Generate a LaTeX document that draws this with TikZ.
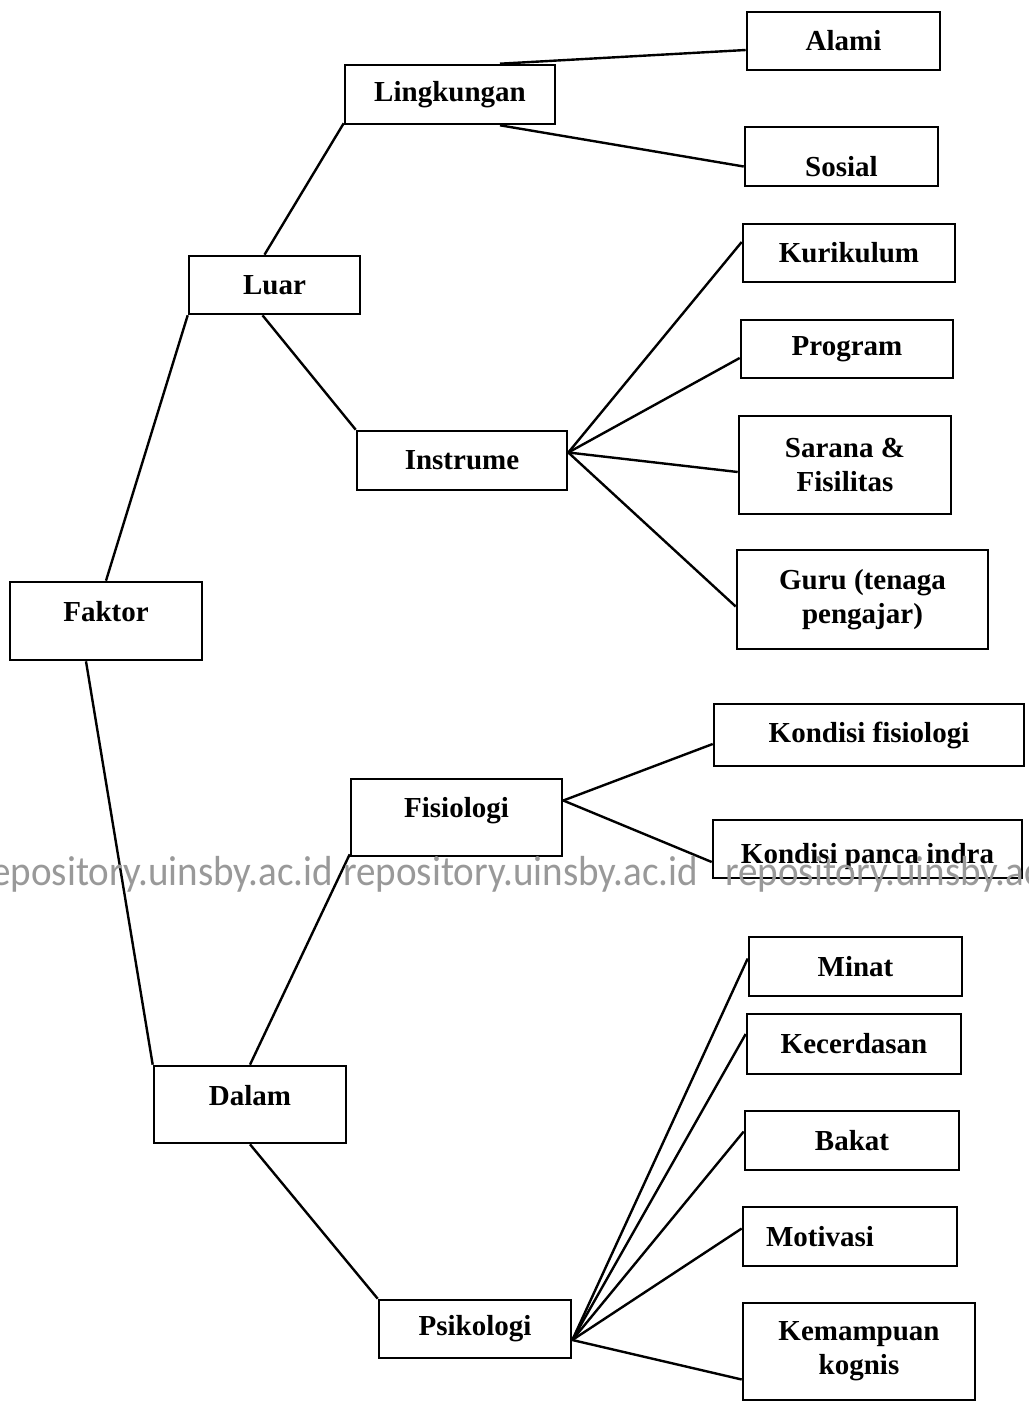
\documentclass[tikz,border=0pt]{standalone}
\usepackage{fontspec}
\setmainfont{Liberation Serif}
\newfontfamily\wmfont{Carlito}
\begin{document}
\begin{tikzpicture}[x=1pt,y=-1pt,
  box/.style={draw, line width=2.6pt, rectangle, inner sep=0pt, align=center,
    font=\fontsize{29}{34}\selectfont\bfseries},
  link/.style={line width=2.4pt},
  wm/.style={text=black!40, inner sep=0pt, anchor=base west, xscale=0.93,
    font=\wmfont\fontsize{42}{46}\selectfont}]
\useasboundingbox[fill=white] (0,0) rectangle (1028,1407);

\node[box, minimum width=192pt, minimum height=78pt, text height=20pt, text depth=20pt] (faktor) at (106,621) {Faktor};
\node[box, minimum width=171pt, minimum height=58pt] (luar) at (274.5,285) {Luar};
\node[box, minimum width=210pt, minimum height=59pt] (lingkungan) at (450,94.5) {Lingkungan};
\node[box, minimum width=193pt, minimum height=58pt] (alami) at (843.5,41) {Alami};
\node[box, minimum width=193pt, minimum height=59pt, text height=41pt, text depth=0pt] (sosial) at (841.5,156.5) {Sosial};
\node[box, minimum width=212pt, minimum height=58pt] (kurikulum) at (849,253) {Kurikulum};
\node[box, minimum width=212pt, minimum height=58pt] (program) at (847,349) {Program};
\node[box, minimum width=212pt, minimum height=98pt] (sarana) at (845,465) {Sarana \&\\Fisilitas};
\node[box, minimum width=251pt, minimum height=99pt] (guru) at (862.5,599.5) {Guru (tenaga\\pengajar)};
\node[box, minimum width=210pt, minimum height=59pt] (instrume) at (462,460.5) {Instrume};
\node[box, minimum width=310pt, minimum height=62pt] (kfis) at (869,735) {Kondisi fisiologi};
\node[box, minimum width=309pt, minimum height=58pt, text height=34pt, text depth=6pt] (kpi) at (867.5,849) {Kondisi panca indra};
\node[box, minimum width=211pt, minimum height=77pt, text height=20pt, text depth=20pt] (fisiologi) at (456.5,817.5) {Fisiologi};
\node[box, minimum width=192pt, minimum height=77pt, text height=20pt, text depth=18pt] (dalam) at (250,1104.5) {Dalam};
\node[box, minimum width=213pt, minimum height=59pt] (minat) at (855.5,966.5) {Minat};
\node[box, minimum width=214pt, minimum height=60pt] (kecerdasan) at (854,1044) {Kecerdasan};
\node[box, minimum width=214pt, minimum height=59pt] (bakat) at (852,1140.5) {Bakat};
\node[box, minimum width=214pt, minimum height=59pt] (motivasi) at (850,1236.5) {Motivasi\hspace*{60pt}};
\node[box, minimum width=232pt, minimum height=97pt] (kemampuan) at (859,1351.5) {Kemampuan\\kognis};
\node[box, minimum width=192pt, minimum height=58pt] (psikologi) at (475,1329) {Psikologi};

\draw[link] (faktor.north) -- (luar.south west);
\draw[link] ([xshift=-20pt]faktor.south) -- (dalam.north west);
\draw[link] ([xshift=-10pt]luar.north) -- ([yshift=2pt]lingkungan.south west);
\draw[link] ([xshift=-12pt]luar.south) -- (instrume.north west);
\draw[link] ([xshift=50pt]lingkungan.north) -- ([yshift=-9pt]alami.west);
\draw[link] ([xshift=50pt]lingkungan.south) -- ([yshift=-10pt]sosial.west);
\draw[link] ([yshift=8pt]instrume.east) -- ([yshift=11pt]kurikulum.west);
\draw[link] ([yshift=8pt]instrume.east) -- ([yshift=-9pt]program.west);
\draw[link] ([yshift=8pt]instrume.east) -- ([yshift=-7pt]sarana.west);
\draw[link] ([yshift=8pt]instrume.east) -- ([yshift=-7pt]guru.west);
\draw[link] ([yshift=17pt]fisiologi.east) -- ([yshift=-9pt]kfis.west);
\draw[link] ([yshift=17pt]fisiologi.east) -- ([yshift=-13pt]kpi.west);
\draw[link] (dalam.north) -- ([yshift=3pt]fisiologi.south west);
\draw[link] (dalam.south) -- (psikologi.north west);
\draw[link] ([yshift=-11pt]psikologi.east) -- ([yshift=8pt]minat.west);
\draw[link] ([yshift=-11pt]psikologi.east) -- ([yshift=10pt]kecerdasan.west);
\draw[link] ([yshift=-11pt]psikologi.east) -- ([yshift=9pt]bakat.west);
\draw[link] ([yshift=-11pt]psikologi.east) -- ([yshift=8pt]motivasi.west);
\draw[link] ([yshift=-11pt]psikologi.east) -- ([yshift=-28pt]kemampuan.west);

\node[wm] (wm1) at (-22,885) {repository.uinsby.ac.id};
\node[wm] (wm2) at (343,885) {repository.uinsby.ac.id};
\node[wm] (wm3) at (725,885) {repository.uinsby.ac.id};
\end{tikzpicture}
\end{document}
